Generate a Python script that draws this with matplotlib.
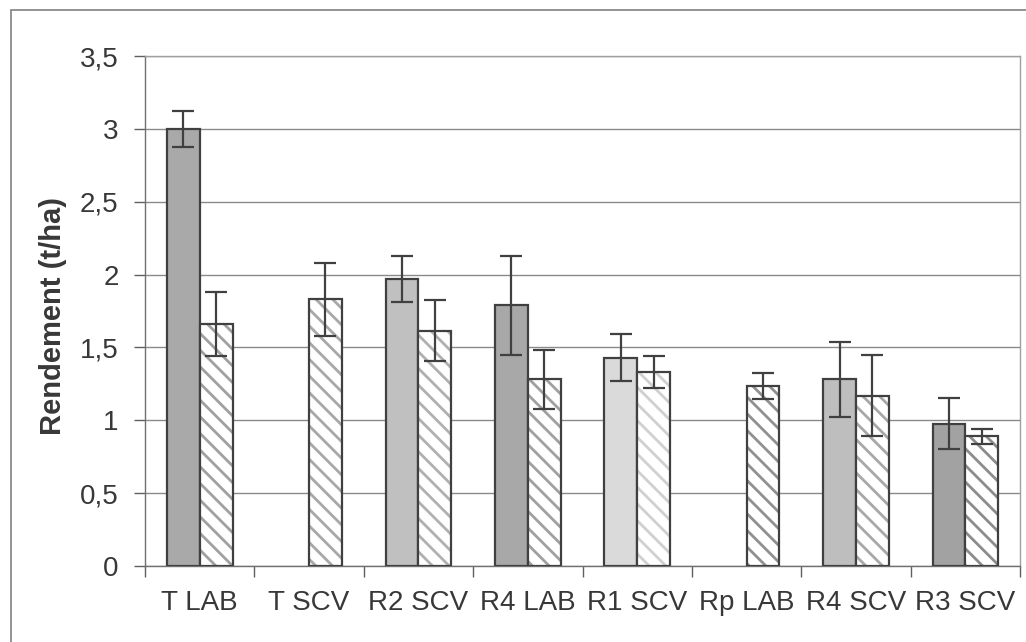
import matplotlib
matplotlib.use("Agg")
import matplotlib.pyplot as plt
import numpy as np
from matplotlib.patches import Rectangle

categories = ["T LAB", "T SCV", "R2 SCV", "R4 LAB", "R1 SCV", "Rp LAB", "R4 SCV", "R3 SCV"]
solid_vals = [3.00, np.nan, 1.97, 1.79, 1.43, np.nan, 1.28, 0.975]
solid_err = [0.125, np.nan, 0.155, 0.34, 0.16, np.nan, 0.26, 0.175]
hatch_vals = [1.66, 1.83, 1.615, 1.28, 1.33, 1.235, 1.17, 0.89]
hatch_err = [0.22, 0.25, 0.21, 0.20, 0.11, 0.088, 0.28, 0.05]
solid_colors = ["#a9a9a9", "#ffffff", "#c0c0c0", "#a8a8a8", "#dadada", "#ffffff", "#bebebe", "#a2a2a2"]
hatch_colors = ["#a0a0a0", "#a8a8a8", "#b0b0b0", "#a0a0a0", "#d0d0d0", "#909090", "#a8a8a8", "#8c8c8c"]
yticks = [0, 0.5, 1, 1.5, 2, 2.5, 3, 3.5]
ytick_labels = ["0", "0,5", "1", "1,5", "2", "2,5", "3", "3,5"]
ylabel = "Rendement (t/ha)"

plt.rcParams['font.family'] = ['Liberation Sans', 'DejaVu Sans']
plt.rcParams['hatch.linewidth'] = 2.0

txt = "#383838"
edge = "#404040"

fig = plt.figure(figsize=(10.26, 6.42), dpi=100)
ax = fig.add_axes([145/1026, 1-566/642, (1020-145)/1026, (566-56)/642])

x = np.arange(len(categories))
w = 0.3

for i in range(len(categories)):
    if not np.isnan(solid_vals[i]):
        ax.bar(x[i] - w/2, solid_vals[i], w, color=solid_colors[i], edgecolor=edge,
               linewidth=1.6, zorder=3)
        ax.errorbar(x[i] - w/2, solid_vals[i], yerr=solid_err[i], fmt='none',
                    ecolor=edge, elinewidth=1.6, capsize=8, capthick=1.6, zorder=5)
    ax.bar(x[i] + w/2, hatch_vals[i], w, color="white", edgecolor=hatch_colors[i],
           hatch='\\\\', linewidth=0, zorder=3)
    ax.bar(x[i] + w/2, hatch_vals[i], w, fill=False, edgecolor=edge,
           linewidth=1.6, zorder=4)
    ax.errorbar(x[i] + w/2, hatch_vals[i], yerr=hatch_err[i], fmt='none',
                ecolor=edge, elinewidth=1.6, capsize=8, capthick=1.6, zorder=5)

ax.set_xlim(-0.5, len(categories) - 0.5)
ax.set_ylim(0, 3.5)
ax.set_yticks(yticks)
ax.set_yticklabels(ytick_labels, fontsize=20, color=txt)
ax.yaxis.grid(True, color="#8a8a8a", linewidth=1.0, zorder=0)
ax.set_axisbelow(True)

ax.set_xticks(np.arange(len(categories) + 1) - 0.5)
ax.set_xticklabels([])
ax.set_xticks(x, minor=True)
ax.set_xticklabels(categories, minor=True, fontsize=20, color=txt)
ax.tick_params(axis='x', which='major', length=8, width=1, color="#606060", direction='out')
ax.tick_params(axis='x', which='minor', length=0, pad=17)
ax.tick_params(axis='y', length=8, width=1, color="#606060", direction='out', pad=11)

for s in ['top', 'right']:
    ax.spines[s].set_color("#a0a0a0")
    ax.spines[s].set_linewidth(1.0)
for s in ['left', 'bottom']:
    ax.spines[s].set_color("#707070")
    ax.spines[s].set_linewidth(1.0)

fig.text(53/1026, 1-316/642, ylabel, rotation=90, ha='center', va='center',
         fontsize=21, fontweight='bold', color=txt)

fig.patches.append(Rectangle((11/1026, -0.2), 1.5, 1.2 - 10/642, transform=fig.transFigure,
                             fill=False, edgecolor="#808080", linewidth=1.2))

fig.savefig("out.png", dpi=100)
